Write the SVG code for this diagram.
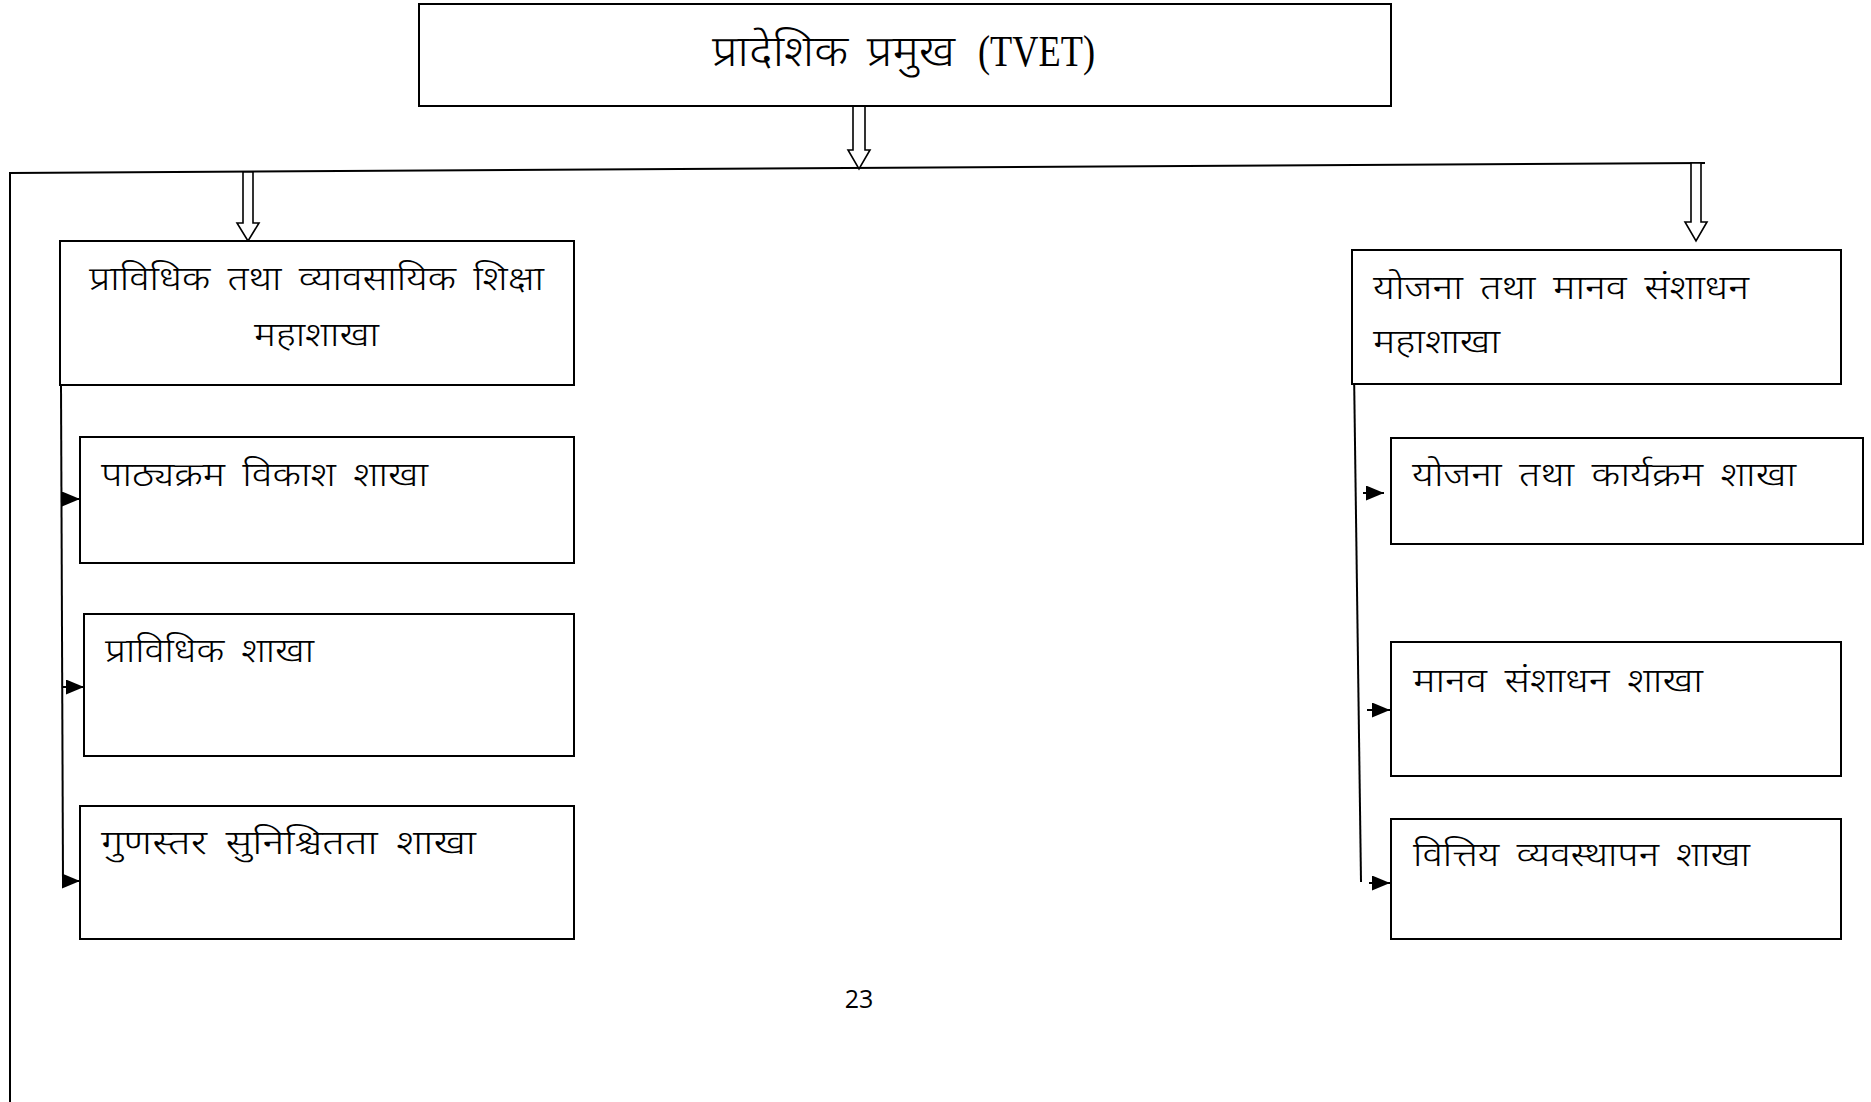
<svg xmlns="http://www.w3.org/2000/svg" width="1871" height="1102" viewBox="0 0 1871 1102">
<style>
.box{fill:#fff;stroke:#000;stroke-width:2}
.ln{fill:none;stroke:#000;stroke-width:2}
.ha{fill:#fff;stroke:#000;stroke-width:1.6;stroke-linejoin:miter}
.dv{font-family:"Noto Sans Devanagari","Lohit Devanagari","FreeSans","Noto Sans",sans-serif;font-size:33px;font-weight:300;word-spacing:6px;fill:#000}
.ttl{font-size:43px}
.tv{font-family:"Liberation Serif","Times New Roman",serif;font-size:44px;fill:#000}
.pg{font-family:"Open Sans","Liberation Sans",sans-serif;font-size:25px;fill:#000}
</style>
<defs>
<marker id="ah" markerWidth="18" markerHeight="15" refX="18" refY="7.5" orient="auto" markerUnits="userSpaceOnUse">
<path d="M0,0 L18,7.5 L0,15 Z" fill="#000"/>
</marker>
</defs>
<rect width="1871" height="1102" fill="#fff"/>
<g id="connectors">
<path class="ln" d="M10,173 L1705,163"/>
<path class="ln" d="M10,172 L10,1102"/>
<path class="ha" d="M853,106 L853,150 L848,150 L859,169 L870,150 L865,150 L865,106"/>
<path class="ha" d="M243,172 L243,223 L237,223 L248,241 L259,223 L253,223 L253,172 Z"/>
<path class="ha" d="M1691,163 L1691,222 L1685,222 L1696,241 L1707,222 L1701,222 L1701,163 Z"/>
<path class="ln" d="M61,385 L63,881"/>
<path class="ln" d="M62,499 L80,499" marker-end="url(#ah)"/>
<path class="ln" d="M62,687 L84,687" marker-end="url(#ah)"/>
<path class="ln" d="M63,881 L80,881" marker-end="url(#ah)"/>
<path class="ln" d="M1353,297 L1361,882"/>
<path class="ln" d="M1363,493 L1384,493" marker-end="url(#ah)"/>
<path class="ln" d="M1367,710 L1390,710" marker-end="url(#ah)"/>
<path class="ln" d="M1369,883 L1390,883" marker-end="url(#ah)"/>
</g>
<g id="n-head">
<rect class="box" x="419" y="4" width="972" height="102"/>
<text class="dv ttl" x="712" y="66" textLength="243" lengthAdjust="spacingAndGlyphs">प्रादेशिक प्रमुख</text>
<text class="tv" x="978" y="66" textLength="117" lengthAdjust="spacingAndGlyphs">(TVET)</text>
</g>
<g id="n-tvet">
<rect class="box" x="60" y="241" width="514" height="144"/>
<text class="dv" x="89" y="290" textLength="455" lengthAdjust="spacingAndGlyphs">प्राविधिक तथा व्यावसायिक शिक्षा</text>
<text class="dv" x="254" y="346" textLength="125" lengthAdjust="spacingAndGlyphs">महाशाखा</text>
</g>
<g id="n-plan">
<rect class="box" x="1352" y="250" width="489" height="134"/>
<text class="dv" x="1373" y="299" textLength="376" lengthAdjust="spacingAndGlyphs">योजना तथा मानव संशाधन</text>
<text class="dv" x="1373" y="353" textLength="127" lengthAdjust="spacingAndGlyphs">महाशाखा</text>
</g>
<g id="n-curr">
<rect class="box" x="80" y="437" width="494" height="126"/>
<text class="dv" x="101" y="486" textLength="327" lengthAdjust="spacingAndGlyphs">पाठ्यक्रम विकाश शाखा</text>
</g>
<g id="n-tech">
<rect class="box" x="84" y="614" width="490" height="142"/>
<text class="dv" x="105" y="662" textLength="209" lengthAdjust="spacingAndGlyphs">प्राविधिक शाखा</text>
</g>
<g id="n-qa">
<rect class="box" x="80" y="806" width="494" height="133"/>
<text class="dv" x="101" y="854" textLength="375" lengthAdjust="spacingAndGlyphs">गुणस्तर सुनिश्चितता शाखा</text>
</g>
<g id="n-prog">
<rect class="box" x="1391" y="438" width="472" height="106"/>
<text class="dv" x="1412" y="486" textLength="384" lengthAdjust="spacingAndGlyphs">योजना तथा कार्यक्रम शाखा</text>
</g>
<g id="n-hr">
<rect class="box" x="1391" y="642" width="450" height="134"/>
<text class="dv" x="1413" y="692" textLength="290" lengthAdjust="spacingAndGlyphs">मानव संशाधन शाखा</text>
</g>
<g id="n-fin">
<rect class="box" x="1391" y="819" width="450" height="120"/>
<text class="dv" x="1413" y="866" textLength="337" lengthAdjust="spacingAndGlyphs">वित्तिय व्यवस्थापन शाखा</text>
</g>
<text class="pg" x="859" y="1008" text-anchor="middle">23</text>
</svg>
